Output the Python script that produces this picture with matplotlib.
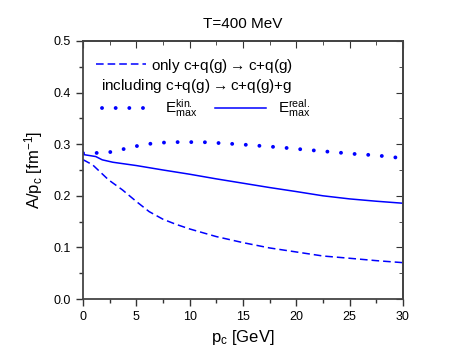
import numpy as np
import matplotlib.pyplot as plt
from matplotlib.ticker import MultipleLocator, FormatStrFormatter

plt.rcParams['font.family'] = ['Liberation Sans', 'DejaVu Sans']
plt.rcParams['mathtext.default'] = 'regular'

# E_max kin. (dotted)
p_kin = [0, 1.25, 2.5, 3.7, 4.95, 6.2, 7.46, 8.7, 10, 11.2, 12.4, 13.7, 14.9, 16.2,
         17.4, 18.7, 19.9, 21.1, 22.4, 23.6, 24.9, 26.1, 27.4, 28.7, 30]
a_kin = [0.2826, 0.283, 0.2845, 0.290, 0.296, 0.3006, 0.303, 0.304, 0.304, 0.304,
         0.3026, 0.301, 0.2994, 0.2974, 0.2955, 0.2935, 0.291, 0.289, 0.2864, 0.2845,
         0.282, 0.280, 0.2787, 0.2755, 0.273]
# E_max real. (solid)
p_real = [0, 1.2, 1.8, 2.8, 5, 7.5, 10, 12.5, 15, 17.5, 20, 22.5, 25, 27.5, 30]
a_real = [0.280, 0.276, 0.2697, 0.265, 0.2586, 0.250, 0.2418, 0.2328, 0.2244, 0.216,
          0.2082, 0.200, 0.194, 0.1895, 0.1856]
# only elastic (dashed)
p_el = [0, 0.9, 2.4, 3.7, 5, 6.2, 7.5, 8.7, 10, 12.5, 15, 17.5, 20, 22.5, 25, 27.5, 30]
a_el = [0.270, 0.260, 0.2308, 0.2114, 0.189, 0.1694, 0.1546, 0.1449, 0.1358, 0.121,
        0.1093, 0.099, 0.0912, 0.0834, 0.079, 0.0744, 0.0705]

blue = '#0000ff'
fig = plt.figure(figsize=(4.69, 3.59), dpi=100)
ax = fig.add_axes([0.177, 0.167, 0.682, 0.719])

l_el, = ax.plot(p_el, a_el, color=blue, lw=1.1, linestyle=(0, (5, 2.6)))
l_kin, = ax.plot(p_kin, a_kin, color=blue, lw=2.8, linestyle=(0, (0.01, 3.5)),
                 dash_capstyle='round')
l_real, = ax.plot(p_real, a_real, color=blue, lw=1.1)

ax.set_xlim(0, 30)
ax.set_ylim(0, 0.5)
ax.xaxis.set_major_locator(MultipleLocator(5))
ax.xaxis.set_minor_locator(MultipleLocator(2.5))
ax.yaxis.set_major_locator(MultipleLocator(0.1))
ax.yaxis.set_minor_locator(MultipleLocator(0.05))
ax.yaxis.set_major_formatter(FormatStrFormatter('%.1f'))
ax.tick_params(which='both', direction='out', labelsize=9, width=1, color='#333333')
ax.tick_params(which='major', length=5)
ax.tick_params(which='minor', length=3)
# mirrored ticks on top/right pointing in
sec_x = ax.secondary_xaxis('top')
sec_x.xaxis.set_major_locator(MultipleLocator(5))
sec_x.xaxis.set_minor_locator(MultipleLocator(2.5))
sec_x.tick_params(which='both', direction='in', labeltop=False, color='#333333')
sec_x.tick_params(which='major', length=5)
sec_x.tick_params(which='minor', length=3)
sec_y = ax.secondary_yaxis('right')
sec_y.yaxis.set_major_locator(MultipleLocator(0.1))
sec_y.yaxis.set_minor_locator(MultipleLocator(0.05))
sec_y.tick_params(which='both', direction='in', labelright=False, color='#333333')
sec_y.tick_params(which='major', length=5)
sec_y.tick_params(which='minor', length=3)
for s in list(ax.spines.values()) + [sec_x.spines['top'], sec_y.spines['right']]:
    s.set_linewidth(1.3)
    s.set_color('#444444')

ax.set_xlabel('$p_c$ [GeV]', fontsize=12, labelpad=4)
ax.set_ylabel('A/$p_c$ [fm$^{-1}$]', fontsize=12, labelpad=6)
fig.suptitle('T=400 MeV', x=0.518, y=0.952, fontsize=11)

arrow = r'$\rightarrow$'
leg1 = ax.legend([l_el], ['only c+q(g)' + arrow + 'c+q(g)'], loc='upper left',
                 bbox_to_anchor=(0.02, 0.962), frameon=False, fontsize=11,
                 handlelength=3.3, handletextpad=0.3, borderaxespad=0)
ax.add_artist(leg1)
ax.text(0.055, 0.825, 'including c+q(g)' + arrow + 'c+q(g)+g', transform=ax.transAxes,
        fontsize=11, va='center')
ax.legend([l_kin, l_real], ['$E_{max}^{kin.}$', '$E_{max}^{real.}$'], ncol=2,
          loc='upper left', bbox_to_anchor=(0.04, 0.805), frameon=False, fontsize=11,
          handlelength=3.3, handletextpad=0.8, columnspacing=1.2, borderaxespad=0)

plt.savefig('out.png', dpi=100)
